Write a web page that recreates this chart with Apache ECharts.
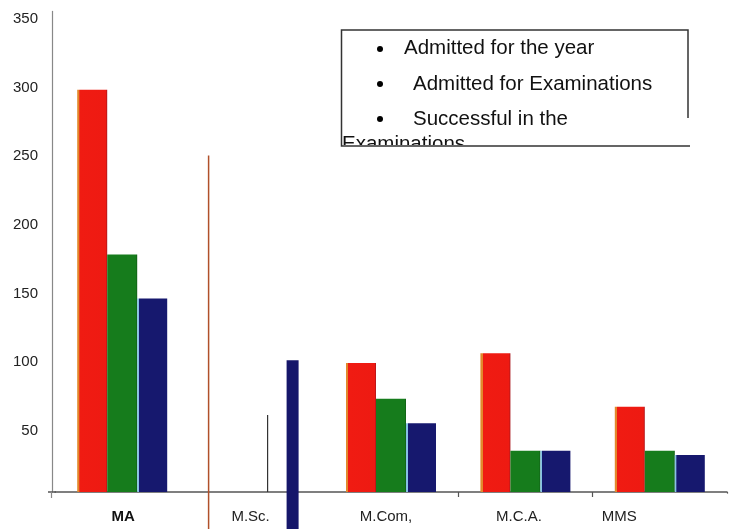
<!DOCTYPE html>
<html><head><meta charset="utf-8">
<script src="https://cdn.jsdelivr.net/npm/echarts/dist/echarts.min.js"></script>
<style>html,body{margin:0;padding:0;background:#fff}#main{width:735px;height:529px}</style>
</head><body><div id="main"></div>
<script>
const categories = ['MA', 'M.Sc.', 'M.Com,', 'M.C.A.', 'MMS'];
const seriesNames = ['Admitted for the year', 'Admitted for Examinations', 'Successful in the Examinations'];
const admittedYear = [293, null, 94, 101, 62];
const admittedExam = [173, null, 68, 30, 30];
const successful = [141, null, 50, 30, 27];
// M.Sc. values as drawn (distorted marks in the original)
const mscValues = [245, 56, 96];
const yTicks = [0, 50, 100, 150, 200, 250, 300, 350];

const chart = echarts.init(document.getElementById('main'), null, {renderer: 'canvas'});
const FONT = '"Liberation Sans", Arial, sans-serif';
const LG = echarts.graphic.LinearGradient;

const redFill = new LG(0, 0, 1, 0, [
  {offset: 0, color: '#e2882c'}, {offset: 0.07, color: '#e2882c'},
  {offset: 0.08, color: '#f01b12'}, {offset: 0.95, color: '#ee1a12'},
  {offset: 1, color: '#a8141a'}]);
const greenFill = new LG(0, 0, 1, 0, [
  {offset: 0, color: '#167c1c'}, {offset: 0.95, color: '#167c1c'},
  {offset: 1, color: '#0f5a14'}]);
const blueFill = new LG(0, 0, 1, 0, [
  {offset: 0, color: '#86c2e4'}, {offset: 0.05, color: '#86c2e4'},
  {offset: 0.06, color: '#16186e'}, {offset: 1, color: '#16186e'}]);

const labelRich = {
  c0: {fontFamily: FONT, fontSize: 15, fontWeight: 'bold', color: '#111', padding: [0, 0, 0, 2], lineHeight: 16},
  c1: {fontFamily: FONT, fontSize: 15, color: '#222', padding: [0, 12, 0, 0], lineHeight: 16},
  c2: {fontFamily: FONT, fontSize: 15, color: '#222', padding: [0, 10, 0, 0], lineHeight: 16},
  c3: {fontFamily: FONT, fontSize: 15, color: '#222', padding: [0, 13, 0, 0], lineHeight: 16},
  c4: {fontFamily: FONT, fontSize: 15, color: '#222', padding: [0, 81, 0, 0], lineHeight: 16}
};

// Legend box (text-only legend with bullets, as in the original)
const lgText = {fontFamily: FONT, fontSize: 20.5, fill: '#111'};
const legendGraphics = [
  {type: 'circle', shape: {cx: 380, cy: 49, r: 3}, style: {fill: '#000'}, z: 100},
  {type: 'text', x: 404, y: 48, style: Object.assign({text: seriesNames[0], textVerticalAlign: 'middle'}, lgText), z: 100},
  {type: 'circle', shape: {cx: 380, cy: 84, r: 3}, style: {fill: '#000'}, z: 100},
  {type: 'text', x: 413, y: 84, style: Object.assign({text: seriesNames[1], textVerticalAlign: 'middle'}, lgText), z: 100},
  {type: 'circle', shape: {cx: 380, cy: 119, r: 3}, style: {fill: '#000'}, z: 100},
  {type: 'text', x: 413, y: 119, style: Object.assign({text: 'Successful in the', textVerticalAlign: 'middle'}, lgText), z: 100},
  {type: 'text', x: 342, y: 144, style: Object.assign({text: 'Examinations', textVerticalAlign: 'middle'}, lgText), z: 100},
  {type: 'rect', shape: {x: 338, y: 145, width: 360, height: 14}, style: {fill: '#fff'}, z: 101},
  {type: 'polyline', shape: {points: [[688, 118], [688, 30], [341.5, 30], [341.5, 146], [690, 146]]},
   style: {stroke: '#333', lineWidth: 1.5, fill: null}, z: 102},
  // short extension of the x axis line to the left of the y axis, as drawn in the original
  {type: 'line', shape: {x1: 48, y1: 492, x2: 56, y2: 492}, style: {stroke: '#555', lineWidth: 1.5}, z: 50},
  {type: 'line', shape: {x1: 51.5, y1: 492, x2: 51.5, y2: 498}, style: {stroke: '#888', lineWidth: 1.2}, z: 50},
  // the original has no tick at the right end of the x axis
  {type: 'rect', shape: {x: 723, y: 493.6, width: 8, height: 6}, style: {fill: '#fff'}, z: 50}
];

const option = {
  backgroundColor: '#fff',
  animation: false,
  grid: {left: 55, right: 8, top: 11.4, bottom: 37, containLabel: false},
  legend: {show: false, data: seriesNames},
  xAxis: {
    type: 'category',
    data: categories,
    boundaryGap: true,
    axisLine: {show: true, lineStyle: {color: '#555', width: 1.5}},
    axisTick: {show: true, length: 5, interval: function (i) { return i === 3 || i === 4; },
      lineStyle: {color: '#555', width: 1.2}},
    axisLabel: {
      interval: 0, margin: 17,
      formatter: function (v, i) { return '{c' + i + '|' + v + '}'; },
      rich: labelRich
    },
    splitLine: {show: false}
  },
  yAxis: {
    type: 'value', min: 0, max: 350, interval: 50, offset: 3,
    axisLine: {show: true, lineStyle: {color: '#888', width: 1.2}},
    axisTick: {show: false},
    splitLine: {show: false},
    axisLabel: {
      margin: 14, fontFamily: FONT, fontSize: 15, color: '#222',
      verticalAlign: 'top', lineHeight: 15,
      formatter: function (v) { return yTicks.indexOf(v) > 0 ? String(v) : ''; }
    }
  },
  series: [
    {name: seriesNames[0], type: 'bar', data: admittedYear, barWidth: 30, barGap: '0%',
      itemStyle: {color: redFill}},
    {name: seriesNames[1], type: 'bar', data: admittedExam, barWidth: 30, barGap: '0%',
      itemStyle: {color: greenFill}},
    {name: seriesNames[2], type: 'bar', data: successful, barWidth: 30, barGap: '0%',
      itemStyle: {color: blueFill}},
    {
      name: 'M.Sc.', type: 'custom', clip: false, z: 5,
      data: mscValues.map(function (v, i) { return [1, v, i]; }),
      encode: {x: 0, y: 1},
      renderItem: function (params, api) {
        const idx = api.value(2);
        const top = api.coord([api.value(0), api.value(1)]);
        const base = api.coord([api.value(0), 0]);
        const cx = top[0];
        const below = base[1] + 40;
        if (idx === 0) {
          return {type: 'line', shape: {x1: cx - 48, y1: top[1], x2: cx - 48, y2: below},
            style: {stroke: '#b0502a', lineWidth: 1.5}};
        }
        if (idx === 1) {
          return {type: 'line', shape: {x1: cx + 11, y1: top[1], x2: cx + 11, y2: base[1]},
            style: {stroke: '#333', lineWidth: 1.2}};
        }
        return {type: 'rect', shape: {x: cx + 30, y: top[1], width: 12, height: below - top[1]},
          style: {fill: '#15166a'}};
      }
    }
  ],
  graphic: legendGraphics
};
chart.setOption(option);
</script>
</body></html>
